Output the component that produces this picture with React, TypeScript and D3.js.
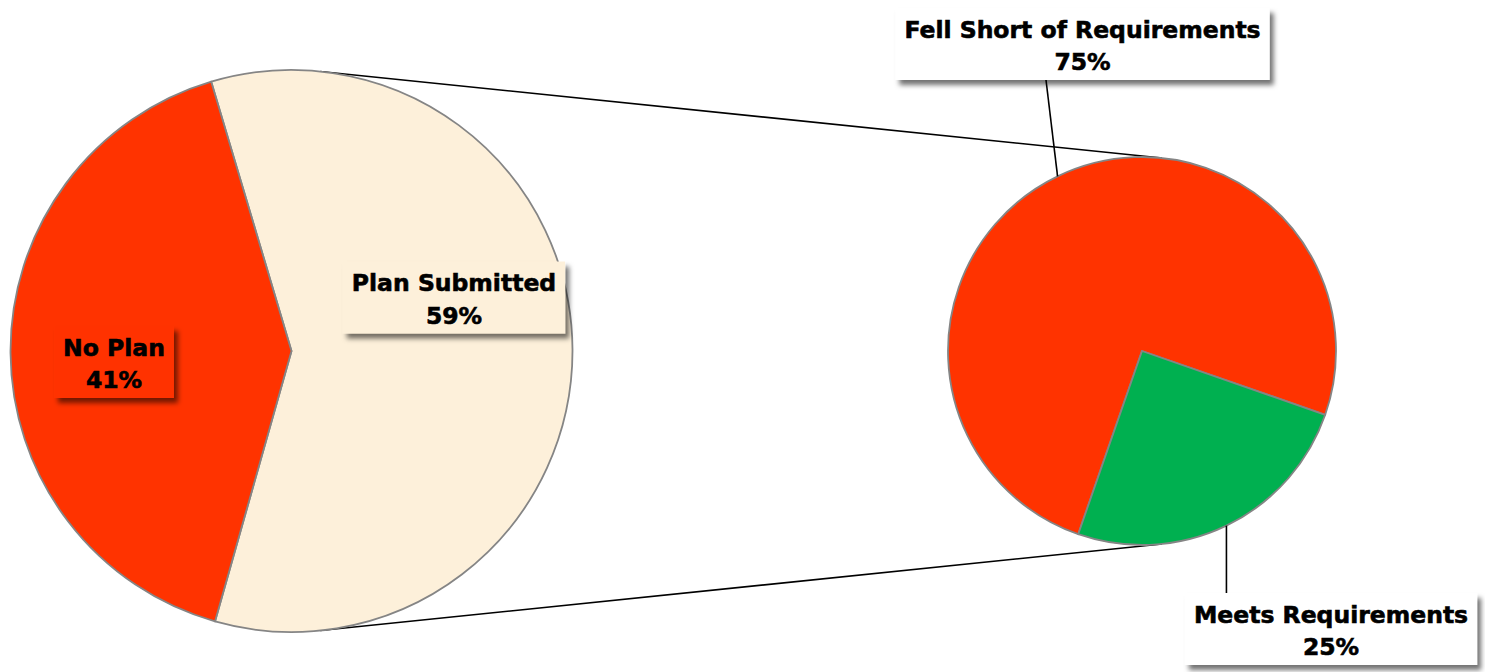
import { useEffect, useRef } from 'react';
import * as d3 from 'd3';

// main pie
const mainCategories = ['Plan Submitted', 'No Plan'];
const mainValues = [59, 41];
const mainColors = ['#FDF0DA', '#FF3300'];

// breakout pie (split of "Plan Submitted")
const detailCategories = ['Fell Short of Requirements', 'Meets Requirements'];
const detailValues = [75, 25];
const detailColors = ['#FF3300', '#00B050'];

const W = 1485;
const H = 672;
const deg = Math.PI / 180;

export default function App() {
  const svgRef = useRef<SVGSVGElement>(null);

  useEffect(() => {
    if (!svgRef.current) return;
    const svg = d3.select(svgRef.current);
    svg.selectAll('*').remove();

    const defs = svg.append('defs');
    const f = defs.append('filter').attr('id', 'shadow')
      .attr('x', '-20%').attr('y', '-30%').attr('width', '140%').attr('height', '170%');
    f.append('feDropShadow')
      .attr('dx', 4).attr('dy', 5).attr('stdDeviation', 2.6)
      .attr('flood-color', '#000').attr('flood-opacity', 0.55);

    const A = { x: 291.5, y: 351, r: 281 };
    const B = { x: 1142, y: 351, r: 194 };

    // connector lines: external tangents of the two circles
    const d = B.x - A.x;
    const phi = Math.acos((A.r - B.r) / d);
    [-1, 1].forEach(s => {
      svg.append('line')
        .attr('x1', A.x + A.r * Math.cos(phi))
        .attr('y1', A.y + s * A.r * Math.sin(phi))
        .attr('x2', B.x + B.r * Math.cos(phi))
        .attr('y2', B.y + s * B.r * Math.sin(phi))
        .attr('stroke', '#000')
        .attr('stroke-width', 1.6);
    });

    // main pie
    const mainData = mainCategories.map((c, i) => ({ c, v: mainValues[i], color: mainColors[i] }));
    const mainSpan = (mainValues[0] / d3.sum(mainValues)) * 360;
    const mainStart = (90 - mainSpan / 2 - 0.4) * deg;
    const mainPie = d3.pie<typeof mainData[0]>().value(p => p.v).sort(null)
      .startAngle(mainStart).endAngle(mainStart + 2 * Math.PI);
    const mainArc = d3.arc<d3.PieArcDatum<typeof mainData[0]>>().innerRadius(0).outerRadius(A.r);
    const gA = svg.append('g').attr('transform', `translate(${A.x},${A.y})`);
    gA.selectAll('path').data(mainPie(mainData)).enter().append('path')
      .attr('d', mainArc)
      .attr('fill', p => p.data.color)
      .attr('stroke', '#858585')
      .attr('stroke-width', 1.8)
      .attr('stroke-linejoin', 'round');

    // breakout pie
    const detailData = detailCategories.map((c, i) => ({ c, v: detailValues[i], color: detailColors[i] }));
    const detailStart = 199.2 * deg;
    const detailPie = d3.pie<typeof detailData[0]>().value(p => p.v).sort(null)
      .startAngle(detailStart).endAngle(detailStart + 2 * Math.PI);
    const detailArc = d3.arc<d3.PieArcDatum<typeof detailData[0]>>().innerRadius(0).outerRadius(B.r);
    const detailArcs = detailPie(detailData);
    const gB = svg.append('g').attr('transform', `translate(${B.x},${B.y})`);
    gB.selectAll('path').data(detailArcs).enter().append('path')
      .attr('d', detailArc)
      .attr('fill', p => p.data.color)
      .attr('stroke', '#858585')
      .attr('stroke-width', 1.8)
      .attr('stroke-linejoin', 'round');

    const edgePoint = (a: d3.PieArcDatum<any>) => {
      const m = (a.startAngle + a.endAngle) / 2;
      return [B.x + B.r * Math.sin(m), B.y - B.r * Math.cos(m)];
    };

    // labels
    const labels = [
      { name: mainCategories[1], value: mainValues[1], cx: 114, cy: 362, fill: mainColors[1] },
      { name: mainCategories[0], value: mainValues[0], cx: 454, cy: 297.5, fill: mainColors[0] },
      { name: detailCategories[0], value: detailValues[0], cx: 1082.5, cy: 44, fill: '#fff' },
      { name: detailCategories[1], value: detailValues[1], cx: 1331, cy: 629, fill: '#fff' },
    ];

    // leader lines for breakout pie labels
    const p0 = edgePoint(detailArcs[0]);
    svg.append('line')
      .attr('x1', p0[0]).attr('y1', p0[1])
      .attr('x2', 1046).attr('y2', labels[2].cy + 36)
      .attr('stroke', '#000').attr('stroke-width', 1.6);
    const p1 = edgePoint(detailArcs[1]);
    svg.append('line')
      .attr('x1', p1[0]).attr('y1', p1[1])
      .attr('x2', p1[0]).attr('y2', labels[3].cy - 36)
      .attr('stroke', '#000').attr('stroke-width', 1.6);

    labels.forEach(l => {
      const g = svg.append('g');
      const rect = g.append('rect').attr('fill', l.fill).attr('filter', 'url(#shadow)');
      const t = g.append('text')
        .attr('text-anchor', 'middle')
        .attr('font-family', '"DejaVu Sans", Verdana, sans-serif')
        .attr('font-weight', 'bold')
        .attr('font-size', 23.5)
        .attr('fill', '#000')
        .attr('stroke', '#000')
        .attr('stroke-width', 0.6);
      t.append('tspan').attr('x', l.cx).attr('y', l.cy - 6.5).text(l.name);
      t.append('tspan').attr('x', l.cx).attr('y', l.cy + 26).text(`${l.value}%`);
      const bb = (t.node() as SVGTextElement).getBBox();
      const w = bb.width + 18;
      rect.attr('x', l.cx - w / 2).attr('y', l.cy - 36).attr('width', w).attr('height', 72);
    });
  }, []);

  return (
    <svg
      ref={svgRef}
      width={W}
      height={H}
      style={{ position: 'absolute', left: 0, top: 0, background: '#fff', display: 'block' }}
    />
  );
}
